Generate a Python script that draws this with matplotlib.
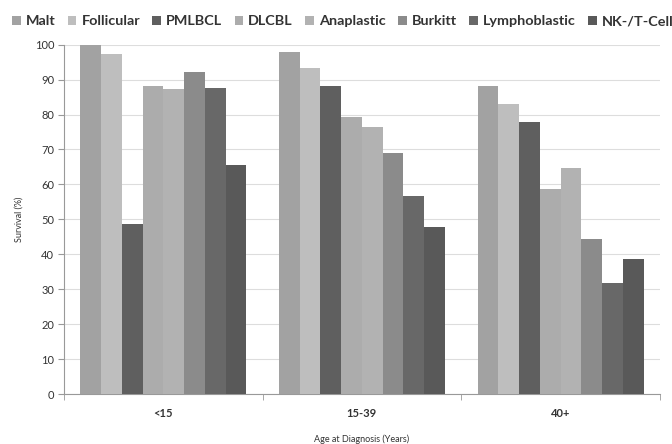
import matplotlib
matplotlib.use("Agg")
import matplotlib.pyplot as plt
import numpy as np

categories = ["<15", "15-39", "40+"]
series_names = ["Malt", "Follicular", "PMLBCL", "DLCBL", "Anaplastic", "Burkitt", "Lymphoblastic", "NK-/T-Cell"]
malt = [100.0, 97.8, 88.1]
follicular = [97.4, 93.3, 82.9]
pmlbcl = [48.6, 88.3, 77.8]
dlcbl = [88.3, 79.2, 58.7]
anaplastic = [87.3, 76.5, 64.8]
burkitt = [92.2, 68.9, 44.5]
lymphoblastic = [87.5, 56.7, 31.8]
nkt = [65.6, 47.9, 38.6]
series_values = [malt, follicular, pmlbcl, dlcbl, anaplastic, burkitt, lymphoblastic, nkt]
colors = ["#a2a2a2", "#bebebe", "#5f5f5f", "#acacac", "#b2b2b2", "#8b8b8b", "#686868", "#595959"]
yticks = list(range(0, 101, 10))

plt.rcParams['font.family'] = ['Lato', 'DejaVu Sans']

fig = plt.figure(figsize=(6.72, 4.44), dpi=100)
ax = fig.add_axes([0.0952, 0.1126, 0.8868, 0.7867])

x = np.arange(len(categories))
n = len(series_names)
w = 0.1044
for i, (name, vals, c) in enumerate(zip(series_names, series_values, colors)):
    ax.bar(x + (i - (n - 1) / 2) * w, vals, width=w, color=c, label=name, zorder=3)

ax.set_xlim(-0.5, len(categories) - 0.5)
ax.set_ylim(0, 100)
ax.set_yticks(yticks)
ax.set_yticklabels([str(t) for t in yticks], fontsize=8, color="#333333")
ax.yaxis.grid(True, color="#dddddd", linewidth=0.8, zorder=0)
ax.set_xticks(x)
ax.set_xticklabels(categories, fontsize=8, fontweight="bold", color="#333333")
ax.set_xticks(np.arange(-0.5, len(categories)), minor=True)
ax.tick_params(axis="x", which="major", length=0, pad=10)
ax.tick_params(axis="x", which="minor", length=4, color="#999999", direction="out")
ax.tick_params(axis="y", length=4, color="#999999", direction="out", pad=3)
for s in ["top", "right"]:
    ax.spines[s].set_visible(False)
ax.spines["left"].set_color("#999999")
ax.spines["bottom"].set_color("#999999")
ax.set_ylabel("Survival (%)", fontsize=6.5, color="#333333", labelpad=8)
ax.set_xlabel("Age at Diagnosis (Years)", fontsize=6.5, color="#333333", labelpad=11)

leg = fig.legend(loc="upper center", bbox_to_anchor=(0.51, 0.995), ncol=n, frameon=False,
                 prop={"weight": "bold", "size": 10.4}, handlelength=0.6, handleheight=0.6,
                 handletextpad=0.35, columnspacing=0.85, labelcolor="#333333")

fig.savefig("out.png", dpi=100, facecolor="white")
